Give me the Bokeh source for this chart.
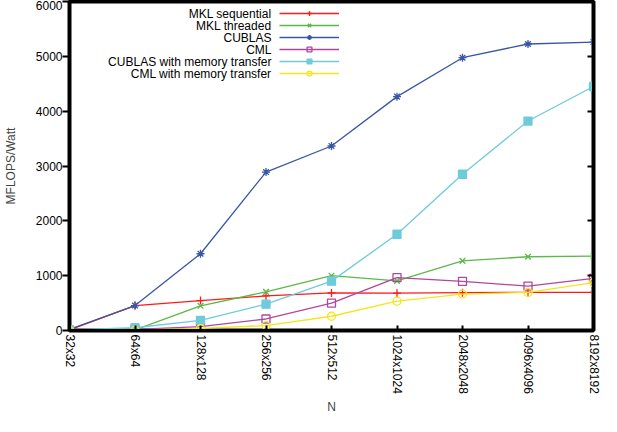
import math
from bokeh.plotting import figure
from bokeh.models import (Range1d, FixedTicker, LinearAxis, Legend, LegendItem, Label)
from bokeh.core.properties import value
from bokeh.embed import file_html
from bokeh.resources import INLINE

# ---- data ----
sizes = ["32x32", "64x64", "128x128", "256x256", "512x512",
         "1024x1024", "2048x2048", "4096x4096", "8192x8192"]
mkl_seq = [10, 455, 545, 630, 685, 680, 690, 695, 695]
mkl_thr = [5, 10, 450, 705, 1000, 905, 1270, 1345, 1355]
cublas = [20, 455, 1400, 2890, 3365, 4265, 4975, 5225, 5260]
cml = [5, 20, 70, 210, 500, 965, 895, 810, 950]
cublas_mem = [10, 50, 185, 480, 900, 1755, 2850, 3820, 4450]
cml_mem = [2, 5, 40, 90, 260, 535, 665, 695, 875]
y_ticks = [0, 1000, 2000, 3000, 4000, 5000, 6000]

series = [
    ("MKL sequential", mkl_seq, "#ff1a1a", "cross", True),
    ("MKL threaded", mkl_thr, "#5db84a", "x", True),
    ("CUBLAS", cublas, "#3a57a7", "asterisk", True),
    ("CML", cml, "#b0479c", "square", False),
    ("CUBLAS with memory transfer", cublas_mem, "#6dcbdc", "square", True),
    ("CML with memory transfer", cml_mem, "#f4e51d", "circle", False),
]

FONT = "Liberation Sans"

xs = list(range(len(sizes)))
x_lo, x_hi = 0, len(sizes) - 1
y_lo, y_hi = y_ticks[0], y_ticks[-1]

W, H = 601, 416
B_LEFT, B_RIGHT, B_TOP, B_BOTTOM = 68, 8, 1, 86
frame_h = H - B_TOP - B_BOTTOM

p = figure(width=W, height=H, output_backend="svg", toolbar_location=None,
           x_range=Range1d(x_lo, x_hi), y_range=Range1d(y_lo, y_hi),
           min_border_left=B_LEFT, min_border_right=B_RIGHT, min_border_top=B_TOP,
           min_border_bottom=B_BOTTOM)
p.xgrid.visible = False
p.ygrid.visible = False
p.outline_line_color = "black"
p.outline_line_width = 4
p.background_fill_color = "white"
p.border_fill_color = "white"

# x axis
p.xaxis.ticker = FixedTicker(ticks=xs)
p.xaxis.major_label_overrides = {i: s for i, s in zip(xs, sizes)}
p.xaxis.major_label_orientation = -math.pi / 2
p.xaxis.major_tick_in = 5
p.xaxis.major_tick_out = 0
p.xaxis.minor_tick_line_color = None
p.xaxis.axis_line_width = 3
p.xaxis.axis_line_color = "black"
p.xaxis.major_tick_line_width = 2
p.xaxis.major_tick_line_color = "black"
p.xaxis.major_label_standoff = 4
p.xaxis.major_label_text_font = FONT
p.xaxis.major_label_text_font_size = "12px"
p.xaxis.major_label_text_color = "black"
p.xaxis.axis_label = "N"
p.xaxis.axis_label_text_font = FONT
p.xaxis.axis_label_text_font_size = "12px"
p.xaxis.axis_label_text_font_style = "normal"
p.xaxis.axis_label_standoff = 3

# y axis
p.yaxis.ticker = FixedTicker(ticks=y_ticks)
p.yaxis.major_tick_out = 7
p.yaxis.major_tick_in = 0
p.yaxis.minor_tick_line_color = None
p.yaxis.axis_line_width = 3
p.yaxis.axis_line_color = "black"
p.yaxis.major_tick_line_width = 2
p.yaxis.major_tick_line_color = "black"
p.yaxis.major_label_standoff = 0
p.yaxis.major_label_text_font = FONT
p.yaxis.major_label_text_font_size = "12px"
p.yaxis.major_label_text_color = "black"
p.yaxis.axis_label = "MFLOPS/Watt"
p.yaxis.axis_label_text_font = FONT
p.yaxis.axis_label_text_font_size = "12px"
p.yaxis.axis_label_text_font_style = "normal"
p.yaxis.axis_label_standoff = 15

# mirrored ticks on the right side (no labels)
ra = LinearAxis(ticker=FixedTicker(ticks=y_ticks), major_tick_in=6, major_tick_out=0,
                major_tick_line_width=2, major_tick_line_color="black",
                minor_tick_line_color=None,
                major_label_overrides={t: "" for t in y_ticks},
                major_label_standoff=0,
                axis_line_color="black", axis_line_width=3)
p.add_layout(ra, "right")

items = []
for name, vals, color, marker, filled in series:
    r_line = p.line(xs, vals, line_color=color, line_width=1.3)
    r_mark = p.scatter(xs, vals, marker=marker, size=8, line_color=color,
                       fill_color=color if filled else None, line_width=1.3)
    items.append(LegendItem(label=value(""), renderers=[r_line, r_mark]))

legend = Legend(items=items, location=(210, frame_h - 6 - 72), glyph_width=60,
                glyph_height=12, label_height=12, label_width=0,
                label_text_font_size="12px", spacing=0, padding=0, margin=0,
                label_standoff=0, border_line_color=None,
                background_fill_alpha=0)
p.add_layout(legend, "center")

for i, (name, vals, color, marker, filled) in enumerate(series):
    p.add_layout(Label(x=202, y=frame_h - 12 - 12 * i, x_units="screen", y_units="screen",
                       text=name, text_align="right", text_baseline="middle",
                       text_font=FONT, text_font_size="12px", text_color="black"))

open("out.html", "w").write(file_html(p, INLINE))
